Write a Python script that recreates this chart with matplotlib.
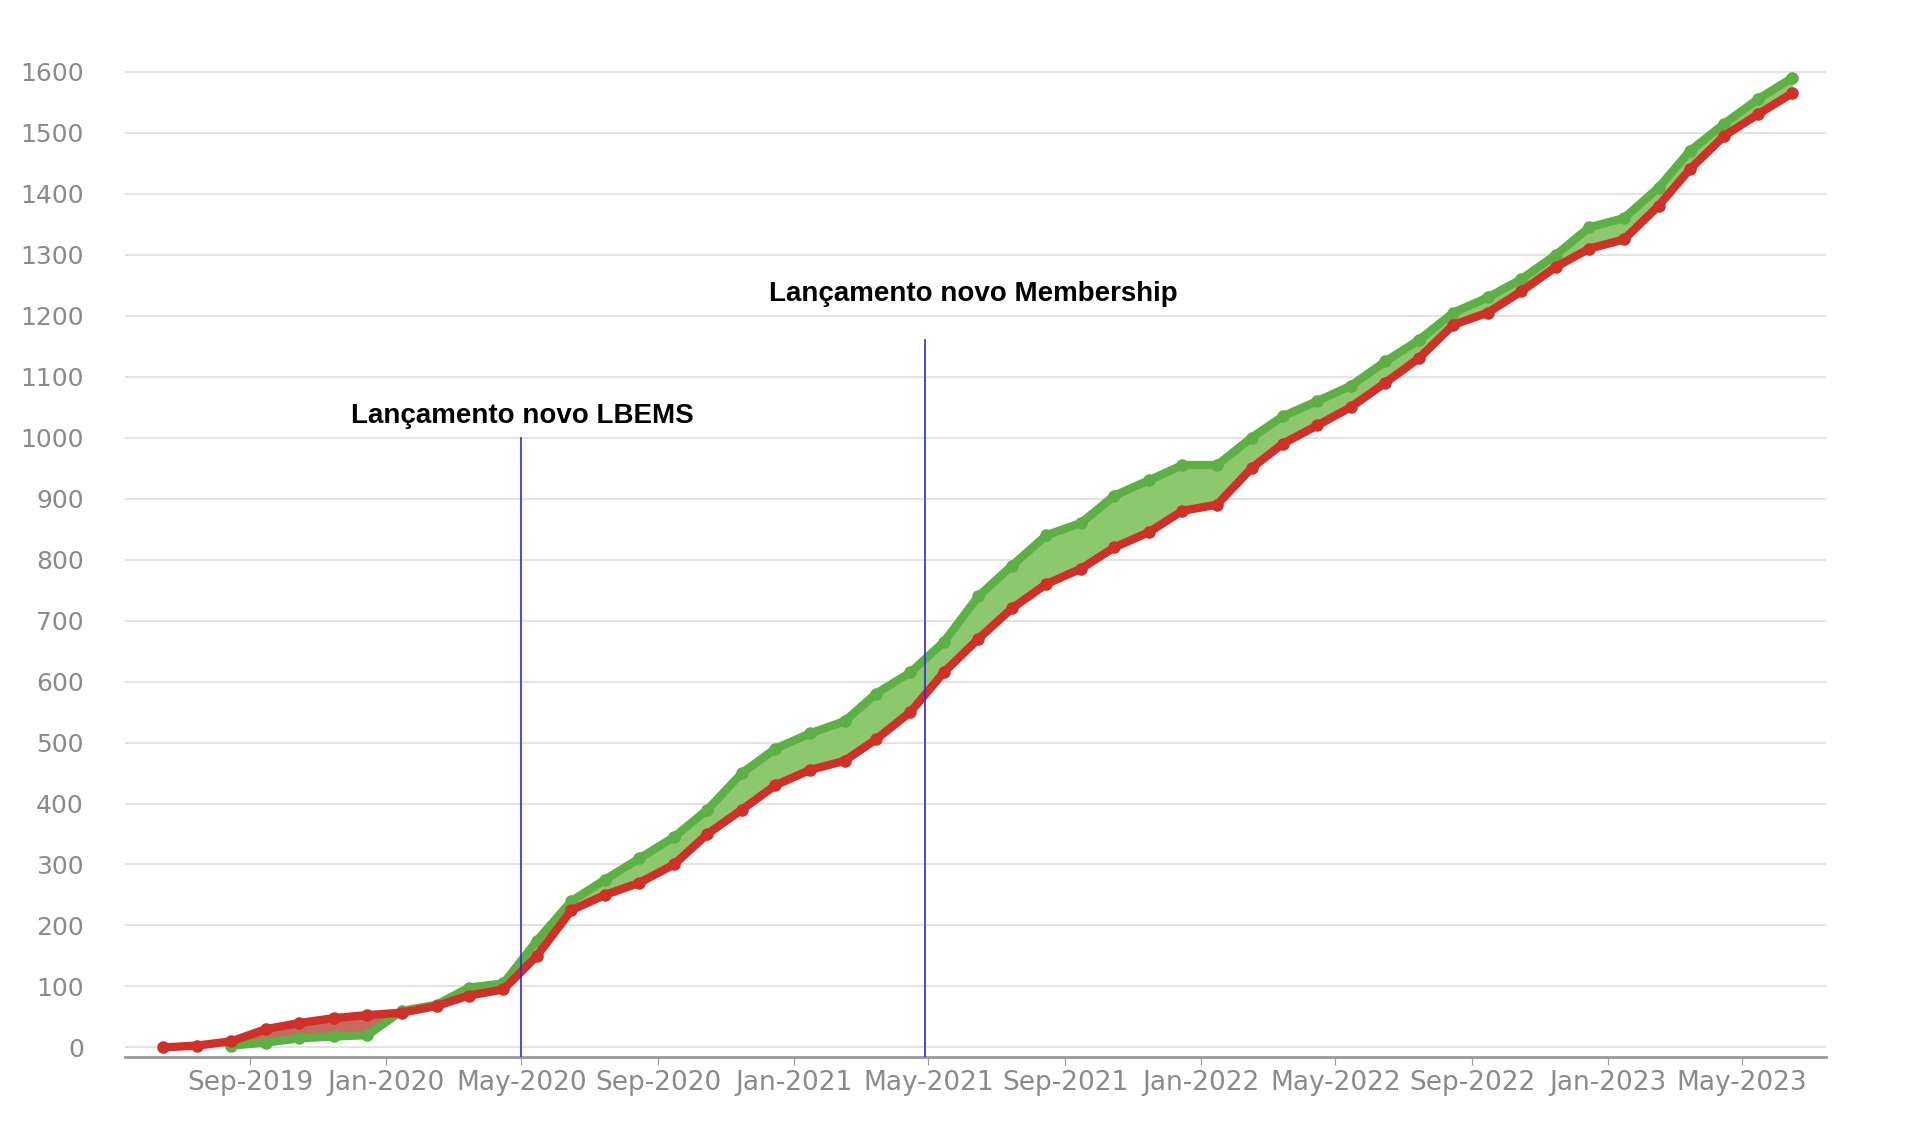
import matplotlib
matplotlib.use("Agg")
import matplotlib.pyplot as plt
import matplotlib.dates as mdates
import numpy as np
import pandas as pd

# monthly readings of the two series
months = pd.date_range("2019-06-01", "2023-06-01", freq="MS") + pd.Timedelta(days=14)
red = [0, 3, 10, 30, 40, 48, 53, 57, 68, 85, 95, 150, 225, 250, 270, 300, 350, 390,
       430, 455, 470, 505, 550, 615, 670, 720, 760, 785, 820, 845, 880, 890, 950, 990,
       1020, 1050, 1090, 1130, 1185, 1205, 1240, 1280, 1310, 1325, 1380, 1440, 1495,
       1530, 1565]
green = [np.nan, np.nan, 3, 8, 15, 18, 20, 60, 70, 98, 105, 175, 240, 275, 310, 345,
         390, 450, 490, 515, 535, 580, 615, 665, 740, 790, 840, 860, 905, 930, 955, 955,
         1000, 1035, 1060, 1085, 1125, 1160, 1205, 1230, 1260, 1300, 1345, 1360, 1410,
         1470, 1515, 1555, 1590]

events = [pd.Timestamp("2020-05-01"), pd.Timestamp("2021-04-28")]
event_tops = [1000, 1160]
event_labels = ["Lançamento novo LBEMS", "Lançamento novo Membership"]
label_pos = [(pd.Timestamp("2020-05-02"), 1035), (pd.Timestamp("2021-06-10"), 1235)]

red = np.array(red, float)
green = np.array(green, float)

fig = plt.figure(figsize=(19.3, 11.24), dpi=100)
ax = fig.add_axes([0.065, 0.06, 0.881, 0.887])

ok = ~np.isnan(green)
ax.fill_between(months[ok], green[ok], red[ok], where=green[ok] >= red[ok],
                interpolate=True, color="#8cc96e", lw=0)
ax.fill_between(months[ok], green[ok], red[ok], where=green[ok] < red[ok],
                interpolate=True, color="#c56a5e", lw=0)
ax.plot(months, green, color="#5cb046", lw=6, marker="o", ms=8, zorder=3)
ax.plot(months, red, color="#d03028", lw=6, marker="o", ms=8, zorder=4)

for d, top in zip(events, event_tops):
    ax.plot([d, d], [-15, top], color="#2b2bdd", lw=1.2, zorder=5)
for (d, v), t in zip(label_pos, event_labels):
    ax.text(d, v, t, ha="center", va="center", fontsize=20, fontweight="bold",
            family="Liberation Sans")

ax.set_ylim(-15, 1620)
ax.set_xlim(pd.Timestamp("2019-05-12"), pd.Timestamp("2023-07-15"))
ax.set_yticks(range(0, 1601, 100))
ax.xaxis.set_major_locator(mdates.MonthLocator(bymonth=[1, 5, 9]))
ax.xaxis.set_major_formatter(mdates.DateFormatter("%b-%Y"))
ax.grid(axis="y", color="#e3e3e3", lw=1.5)
ax.set_axisbelow(True)
for s in ["top", "right", "left"]:
    ax.spines[s].set_visible(False)
ax.spines["bottom"].set_color("#999999")
ax.spines["bottom"].set_linewidth(2)
ax.tick_params(axis="y", length=0, labelsize=18, labelcolor="#8a8a8a", pad=30)
ax.tick_params(axis="x", length=6, color="#999999", labelsize=19, labelcolor="#8a8a8a")

fig.savefig("out.png")
